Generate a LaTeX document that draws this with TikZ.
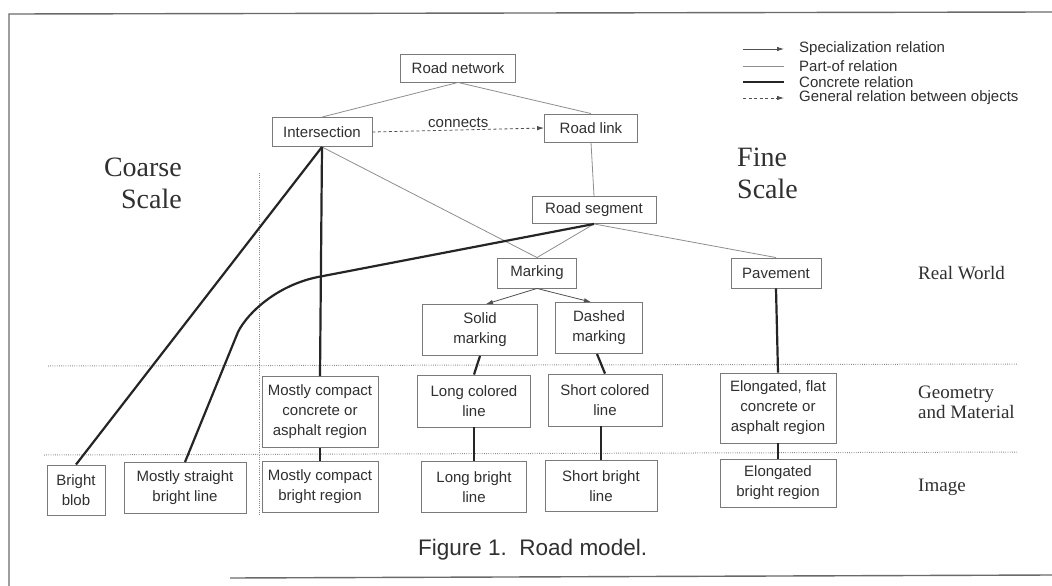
\documentclass[tikz,border=0pt]{standalone}
\usepackage{fontspec}
\setmainfont{Liberation Sans}
\newfontfamily\tnr{Liberation Serif}
\usetikzlibrary{arrows.meta}
\definecolor{boxc}{HTML}{7A7A7A}
\definecolor{txt}{HTML}{303030}
\definecolor{thinc}{HTML}{8E8E8E}
\definecolor{specc}{HTML}{505050}
\definecolor{thickc}{HTML}{252525}
\definecolor{framec}{HTML}{6A6A6A}
\definecolor{dotc}{HTML}{8A8A8A}
\begin{document}
\begin{tikzpicture}[x=1pt,y=-1pt,
  box/.style={draw=boxc, line width=0.9pt, text=txt, font=\fontsize{15}{20}\selectfont, align=center, inner sep=0pt},
  partof/.style={draw=thinc, line width=0.8pt},
  specarr/.style={draw=specc, line width=0.8pt, -{Latex[length=7pt,width=4.5pt]}},
  concrete/.style={draw=thickc, line width=2.2pt},
  general/.style={draw=specc, line width=0.8pt, dash pattern=on 3pt off 2.5pt, -{Latex[length=7pt,width=4.5pt]}},
  levelline/.style={draw=dotc, line width=1pt, dash pattern=on 0.8pt off 1.4pt},
  framel/.style={draw=framec, line width=1.4pt},
  legtext/.style={anchor=west, text=txt, font=\fontsize{15}{16}\selectfont, inner sep=0pt},
  serifl/.style={text=txt, font=\tnr\fontsize{19}{20}\selectfont, inner sep=0pt},
  bigserif/.style={text=txt, font=\tnr\fontsize{28}{32}\selectfont, inner sep=0pt}]
\useasboundingbox (0,0) rectangle (1052,586);
\fill[white] (0,0) rectangle (1052,586);
% frame
\coordinate (ftl) at (9,14);
\coordinate (ftr) at (1052,12);
\coordinate (fbl) at (9,586);
\coordinate (bbl) at (230,578);
\coordinate (bbr) at (1052,575);
\draw[framel] (fbl) -- (ftl) -- (ftr);
\draw[framel] (bbl) -- (bbr);
% level lines
\coordinate (h1a) at (48,366); \coordinate (h1b) at (1018,364);
\coordinate (h2a) at (44,455); \coordinate (h2b) at (1018,452);
\coordinate (v1a) at (259,173); \coordinate (v1b) at (259,515);
\draw[levelline] (h1a) -- (h1b);
\draw[levelline] (h2a) -- (h2b);
\draw[levelline] (v1a) -- (v1b);
% nodes
\node[box, minimum width=115pt, minimum height=28pt] (rn) at (458,68) {Road network};
\node[box, minimum width=100pt, minimum height=29pt] (int) at (322,132) {Intersection};
\node[box, minimum width=93pt, minimum height=28pt] (rl) at (591,128) {Road link};
\node[box, minimum width=124pt, minimum height=27pt] (rs) at (594,210) {Road segment};
\node[box, minimum width=79pt, minimum height=30pt] (mk) at (537,273) {Marking};
\node[box, minimum width=90pt, minimum height=30pt] (pv) at (776,273) {Pavement};
\node[box, minimum width=115pt, minimum height=51pt] (sm) at (480,330) {Solid\\marking};
\node[box, minimum width=87pt, minimum height=51pt] (dm) at (599,328) {Dashed\\marking};
\node[box, minimum width=116pt, minimum height=71pt] (mcc) at (320,412) {Mostly compact\\concrete or\\asphalt region};
\node[box, minimum width=113pt, minimum height=52pt] (lcl) at (474,401) {Long colored\\line};
\node[box, minimum width=114pt, minimum height=52pt] (scl) at (605,400) {Short colored\\line};
\node[box, minimum width=116pt, minimum height=70pt] (efc) at (778,408) {Elongated, flat\\concrete or\\asphalt region};
\node[box, minimum width=58pt, minimum height=50pt] (bb) at (76,490) {Bright\\blob};
\node[box, minimum width=122pt, minimum height=51pt] (msb) at (185,488) {Mostly straight\\bright line};
\node[box, minimum width=116pt, minimum height=51pt] (mcb) at (320,487) {Mostly compact\\bright region};
\node[box, minimum width=105pt, minimum height=51pt] (lbl) at (474,487) {Long bright\\line};
\node[box, minimum width=112pt, minimum height=51pt] (sbl) at (601,486) {Short bright\\line};
\node[box, minimum width=116pt, minimum height=48pt] (ebr) at (778,483) {Elongated\\bright region};
% part-of
\draw[partof] (rn.south) -- (int.north);
\draw[partof] (rn.south) -- (rl.north);
\draw[partof] (rl.south) -- (rs.north);
\draw[partof] (int.south) -- (mk.north);
\draw[partof] (rs.south) -- (mk.north);
\draw[partof] (rs.south) -- (pv.north);
% specialization
\draw[specarr] (mk.south) -- ([xshift=6pt]sm.north);
\draw[specarr] (mk.south) -- ([xshift=-8pt]dm.north);
% general
\draw[general] (int.east) -- node[above=1pt, text=txt, font=\fontsize{15}{16}\selectfont, inner sep=1pt] (conn) {connects} (rl.west);
% concrete
\draw[concrete] (int.south) -- (bb.north);
\draw[concrete] (int.south) -- (mcc.north);
\coordinate (cv1) at (318,277);
\coordinate (cv2) at (238,332);
\draw[concrete, line join=round] (rs.south) -- (cv1) .. controls (278,285) and (248,312) .. (cv2) -- (msb.north);
\draw[concrete] (pv.south) -- (efc.north);
\draw[concrete] (sm.south) -- (lcl.north);
\draw[concrete] ([xshift=-2pt]dm.south) -- (scl.north);
\draw[concrete] (lcl.south) -- (lbl.north);
\draw[concrete] ([xshift=-4pt]scl.south) -- (sbl.north);
\draw[concrete] (mcc.south) -- (mcb.north);
\draw[concrete] (efc.south) -- (ebr.north);
% legend
\coordinate (l1a) at (743,49); \coordinate (l1b) at (784,49);
\coordinate (l2a) at (743,66); \coordinate (l2b) at (784,66);
\coordinate (l3a) at (743,82); \coordinate (l3b) at (784,82);
\coordinate (l4a) at (743,98); \coordinate (l4b) at (784,98);
\draw[specarr] (l1a) -- (l1b);
\draw[partof] (l2a) -- (l2b);
\draw[concrete] (l3a) -- (l3b);
\draw[general] (l4a) -- (l4b);
\node[legtext] (lt1) at (799,49) {Specialization relation};
\node[legtext] (lt2) at (799,66) {Part-of relation};
\node[legtext] (lt3) at (799,82) {Concrete relation};
\node[legtext] (lt4) at (799,98) {General relation between objects};
% scale labels
\node[bigserif, anchor=base east] (cs1) at (182,176) {Coarse};
\node[bigserif, anchor=base east] (cs2) at (182,208) {Scale};
\node[bigserif, anchor=base west] (fs1) at (737,166) {Fine};
\node[bigserif, anchor=base west] (fs2) at (737,198) {Scale};
% level labels
\node[serifl, anchor=base west] (rw) at (918,279) {Real World};
\node[serifl, anchor=base west] (gm1) at (918,398) {Geometry};
\node[serifl, anchor=base west] (gm2) at (918,418) {and Material};
\node[serifl, anchor=base west] (im) at (918,491) {Image};
% caption
\node[anchor=base west, text=txt, font=\fontsize{22.5}{24}\selectfont, inner sep=0pt] (cap) at (418,555) {Figure 1.\ \ Road model.};
\end{tikzpicture}
\end{document}
